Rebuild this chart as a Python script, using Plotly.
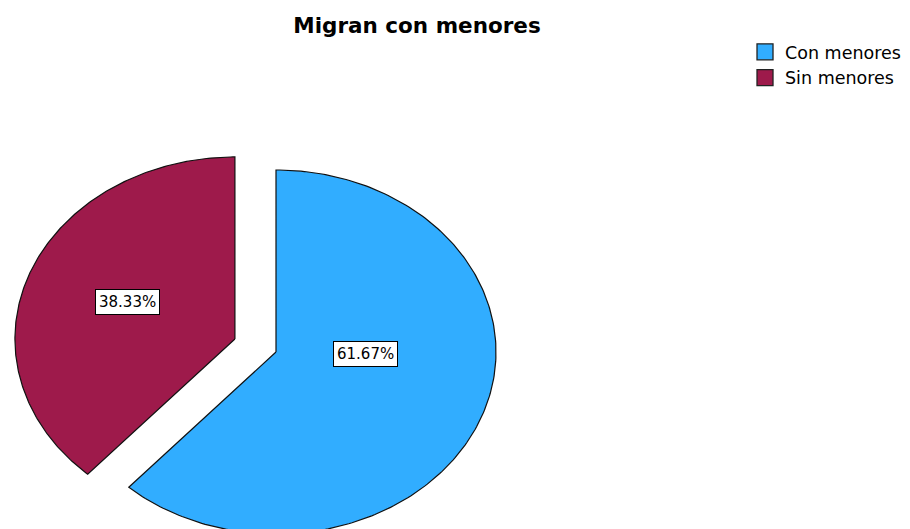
import numpy as np
import plotly.graph_objects as go

# ---- data ----
categories = ["Con menores", "Sin menores"]
values = [61.67, 38.33]
pull = [0.0, 0.2]
colors = ["#31ADFF", "#9E1A4B"]
title_text = "Migran con menores"

# ---- geometry ----
W, H = 910, 529
OFF = 8  # page body margin: axis coordinates match screen pixels
cx, cy = 276, 352
rx, ry = 220, 182
FONT = "DejaVu Sans, Liberation Sans, Arial"

fig = go.Figure()
total = sum(values)
start = 0.0
label_pos = [(365, 354), (127, 302)]
for i, (cat, v) in enumerate(zip(categories, values)):
    a0 = start
    a1 = start + 360.0 * v / total
    start = a1
    mid = np.radians((a0 + a1) / 2)
    ox = pull[i] * rx * np.sin(mid)
    oy = -pull[i] * ry * np.cos(mid)
    t = np.radians(np.linspace(a0, a1, 240))
    xs = np.concatenate([[cx + ox], cx + ox + rx * np.sin(t), [cx + ox]])
    ys = np.concatenate([[cy + oy], cy + oy - ry * np.cos(t), [cy + oy]])
    fig.add_trace(go.Scatter(x=xs, y=ys, mode="lines", fill="toself",
                             fillcolor=colors[i], line=dict(color="#111111", width=1.2),
                             showlegend=False, hoverinfo="text", text=cat))
    fig.add_annotation(x=label_pos[i][0], y=label_pos[i][1], text=f"{v:.2f}%",
                       showarrow=False, bgcolor="white", bordercolor="black",
                       borderwidth=1, borderpad=3,
                       font=dict(family=FONT, size=15, color="black"))

# legend entries
for cat, col in zip(categories, colors):
    fig.add_trace(go.Scatter(x=[None], y=[None], mode="markers", name=cat,
                             marker=dict(symbol="square", size=18, color=col,
                                         line=dict(color="#222222", width=1.3))))

fig.update_layout(
    width=W, height=H,
    margin=dict(l=0, r=0, t=0, b=0),
    paper_bgcolor="white", plot_bgcolor="white",
    title=dict(text=f"<b>{title_text}</b>", x=(417 - OFF) / W, xanchor="center",
               y=1 - (25 - OFF) / H, yanchor="middle",
               font=dict(family=FONT, size=21.5, color="black")),
    xaxis=dict(range=[OFF, OFF + W], visible=False, fixedrange=True),
    yaxis=dict(range=[OFF + H, OFF], visible=False, fixedrange=True),
    legend=dict(x=0.8099, xanchor="left", y=0.951, yanchor="top",
                font=dict(family=FONT, size=17.5, color="black"),
                itemwidth=30, tracegroupgap=0, bgcolor="rgba(0,0,0,0)"),
    showlegend=True,
)

fig.write_html("out.html")
